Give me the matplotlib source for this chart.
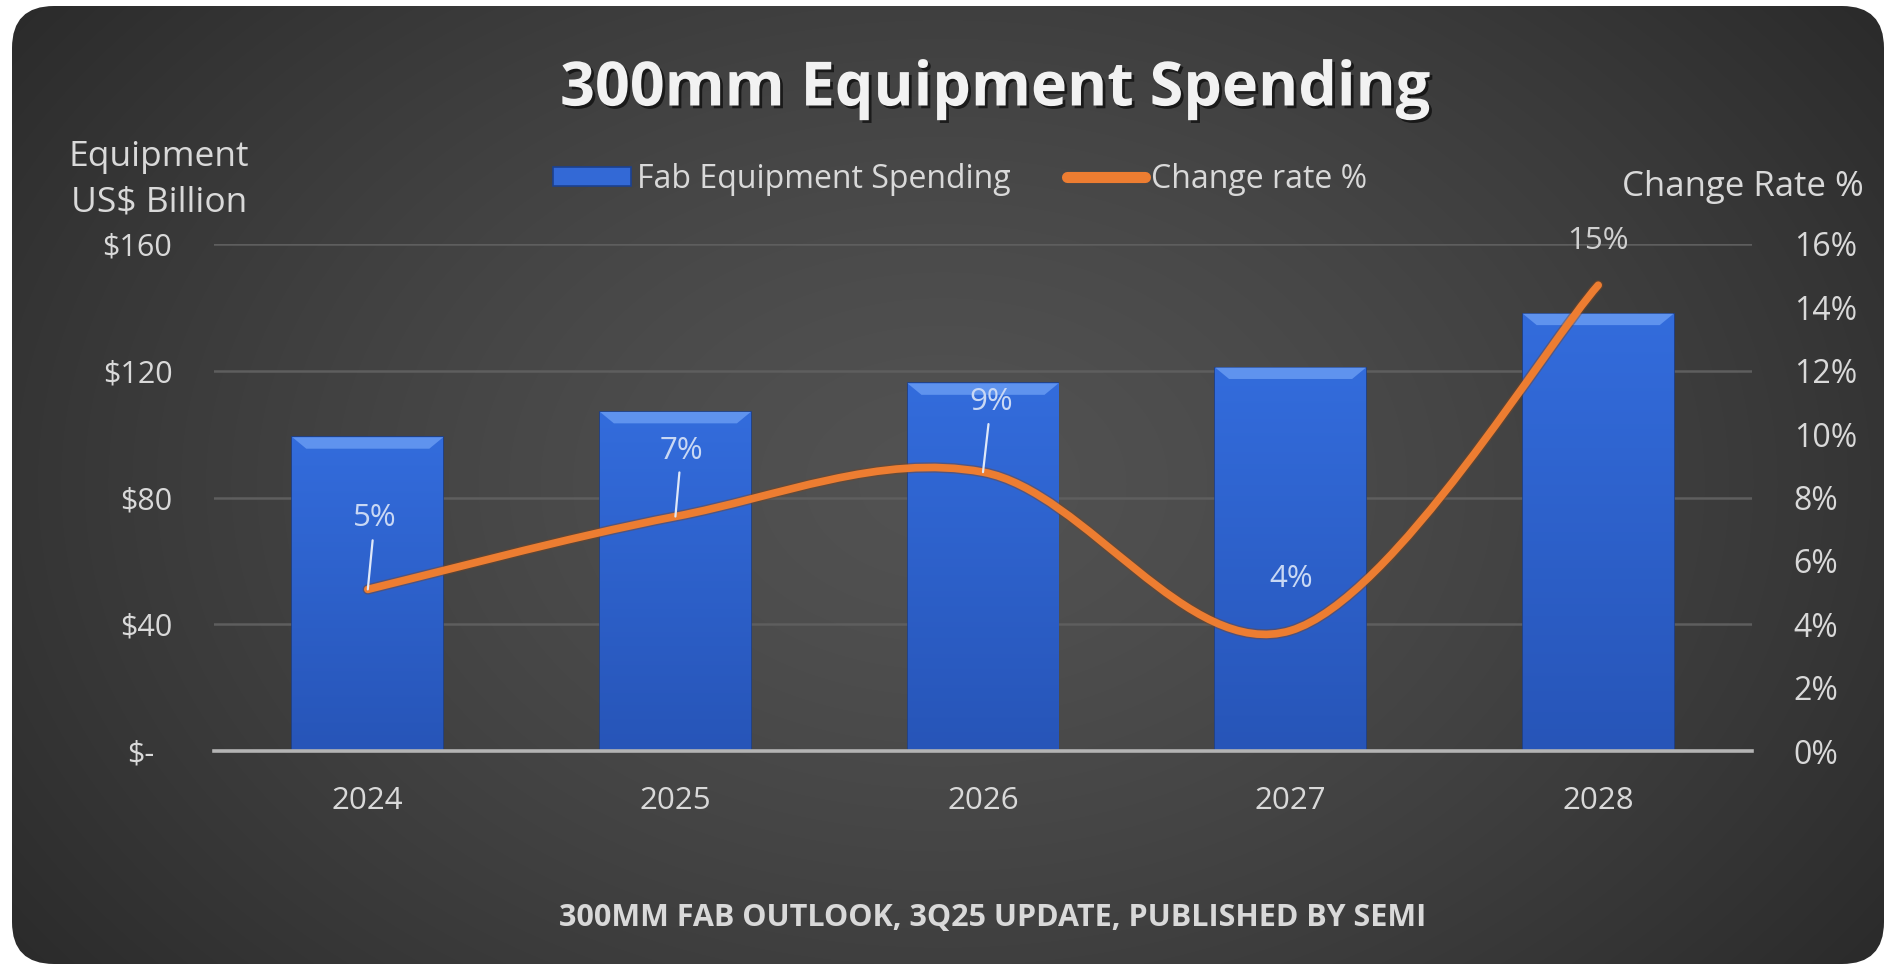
import matplotlib
matplotlib.use("Agg")
import matplotlib.pyplot as plt
import matplotlib.patheffects as pe
import numpy as np
from matplotlib.patches import FancyBboxPatch, PathPatch, Patch, Polygon
from matplotlib.path import Path
from matplotlib.lines import Line2D
from matplotlib.ticker import FuncFormatter

# chart data
years = ["2024", "2025", "2026", "2027", "2028"]
spending = [99, 107, 116, 121, 138]          # US$ billion
change_rate = [5.1, 7.4, 8.8, 3.8, 14.7]     # %
rate_labels = ["5%", "7%", "9%", "4%", "15%"]
left_ticks = [0, 40, 80, 120, 160]
left_tick_labels = ["$-", "$40", "$80", "$120", "$160"]
right_ticks = [0, 2, 4, 6, 8, 10, 12, 14, 16]

W, H = 1885, 967
plt.rcParams['font.family'] = ['Open Sans', 'DejaVu Sans']
TXT = '#d9d9d9'

fig = plt.figure(figsize=(W / 100, H / 100), dpi=100)
fig.patch.set_facecolor('white')

# rounded dark card with radial gradient
bg = fig.add_axes([0, 0, 1, 1])
bg.set_xlim(0, W)
bg.set_ylim(H, 0)
bg.axis('off')
card = FancyBboxPatch((12, 6), W - 13, H - 9,
                      boxstyle="round,pad=0,rounding_size=42",
                      fc='none', ec='none')
bg.add_patch(card)
yy, xx = np.mgrid[0:H:3, 0:W:3]
r = np.sqrt(((xx - 0.5 * W) / (0.62 * W)) ** 2 + ((yy - 0.5 * H) / (0.85 * H)) ** 2)
v = (82 - 40 * np.clip(r, 0, 1) ** 1.4) / 255.0
rgb = np.dstack([v, v, v])
im = bg.imshow(rgb, extent=(0, W, H, 0), aspect='auto', interpolation='bilinear')
im.set_clip_path(card)

# main axes
ax = fig.add_axes([214 / W, 1 - 751 / H, (1752 - 214) / W, (751 - 244) / H])
ax.set_facecolor('none')
x = np.arange(len(years))
bars = ax.bar(x, spending, width=0.49, color='#2d60cb', edgecolor='#1c4190',
              linewidth=1.2, zorder=2)

# gradient + bevel on each bar
grad = np.linspace(0, 1, 64).reshape(-1, 1)
top_c = np.array([0x33, 0x6c, 0xdc]) / 255
bot_c = np.array([0x27, 0x55, 0xb8]) / 255
grad_rgb = top_c * (1 - grad[..., None]) + bot_c * grad[..., None]
for b in bars:
    x0, w, h = b.get_x(), b.get_width(), b.get_height()
    gi = ax.imshow(grad_rgb, extent=(x0, x0 + w, 0, h), aspect='auto',
                   interpolation='bilinear', zorder=2.1)
    gi.set_clip_path(b)
    dx, dy = 0.045, 3.6
    bevel = Polygon([(x0, h), (x0 + w, h), (x0 + w - dx, h - dy), (x0 + dx, h - dy)],
                    closed=True, fc='#5f93ee', ec='none', zorder=2.2)
    ax.add_patch(bevel)

ax.set_xlim(-0.5, len(years) - 0.5)
ax.set_ylim(0, 160)
ax.set_yticks(left_ticks)
ax.set_yticklabels(left_tick_labels)
ax.get_yticklabels()[0].set_x(-0.012)
ax.set_xticks(x)
ax.set_xticklabels(years)
ax.tick_params(axis='both', length=0, colors=TXT)
ax.tick_params(axis='y', labelsize=22, pad=30)
ax.tick_params(axis='x', labelsize=22.5, pad=25)
ax.grid(axis='y', color='#5e5e5e', lw=1.8)
ax.set_axisbelow(True)
for s in ['top', 'right', 'left']:
    ax.spines[s].set_visible(False)
ax.spines['bottom'].set_color('#b4b4b4')
ax.spines['bottom'].set_linewidth(2.6)
ax.spines['bottom'].set_zorder(2.5)

# change rate axis
ax2 = ax.twinx()
ax2.set_ylim(0, 16)
ax2.set_yticks(right_ticks)
ax2.yaxis.set_major_formatter(FuncFormatter(lambda v, p: f"{v:.0f}%"))
ax2.tick_params(axis='y', length=0, colors=TXT, labelsize=23, pad=30)
for s in ax2.spines.values():
    s.set_visible(False)

# smoothed line (Catmull-Rom as cubic Bezier)
pts = np.column_stack([x, change_rate]).astype(float)
ext = np.vstack([pts[0], pts, pts[-1]])
verts = [pts[0]]
codes = [Path.MOVETO]
for i in range(len(pts) - 1):
    p0, p1, p2, p3 = ext[i], ext[i + 1], ext[i + 2], ext[i + 3]
    verts += [p1 + (p2 - p0) / 6, p2 - (p3 - p1) / 6, p2]
    codes += [Path.CURVE4] * 3
line = PathPatch(Path(verts, codes), fill=False, ec='#ed7d31', lw=5.5,
                 capstyle='round', joinstyle='round', zorder=3,
                 path_effects=[pe.Stroke(linewidth=7.5, foreground='#7a4420', alpha=0.45),
                               pe.Normal()])
ax2.add_patch(line)

# data labels
label_offsets = [(7, 71), (6, 66), (8, 70), (1, 52), (0, 44)]
has_leader = [True, True, True, False, False]
label_colors = ['#c9d8f4', '#c9d8f4', '#c9d8f4', '#c9d8f4', '#d0d0d0']
for i, lab in enumerate(rate_labels):
    arrow = dict(arrowstyle='-', color='#dfe8f8', lw=1.6, shrinkA=3, shrinkB=0) if has_leader[i] else None
    ax2.annotate(lab, xy=(x[i], change_rate[i]), xytext=label_offsets[i],
                 textcoords='offset pixels', ha='center', va='center',
                 fontsize=22.5, color=label_colors[i], arrowprops=arrow, zorder=4)

# titles
shadow = [pe.withSimplePatchShadow(offset=(2, -2), shadow_rgbFace='black', alpha=0.6)]
fig.text(995 / W, 1 - 90 / H, "300mm Equipment Spending", ha='center', va='center',
         fontsize=44, fontweight='bold', color='#f2f2f2', path_effects=shadow)
fig.text(159 / W, 1 - 157 / H, "Equipment", ha='center', va='center', fontsize=25.5, color=TXT)
fig.text(159 / W, 1 - 202 / H, "US$ Billion", ha='center', va='center', fontsize=25.5, color=TXT)
fig.text(1864 / W, 1 - 187 / H, "Change Rate %", ha='right', va='center', fontsize=25, color=TXT)
fig.text(993 / W, 1 - 918 / H, "300MM FAB OUTLOOK, 3Q25 UPDATE, PUBLISHED BY SEMI",
         ha='center', va='center', fontsize=22, fontweight='bold', color=TXT)

# legend
handles = [Patch(fc='#3369d6', ec='#1c4190', lw=1.2),
           Line2D([], [], color='#ed7d31', lw=8, solid_capstyle='round')]
fig.legend(handles, ["Fab Equipment Spending", "Change rate %"], loc='center',
           bbox_to_anchor=(960 / W, 1 - 179 / H), ncol=2, frameon=False,
           fontsize=23, labelcolor=TXT, handlelength=2.45, handleheight=0.55,
           handletextpad=0.2, columnspacing=1.75)

fig.savefig("out.png", dpi=100, facecolor=fig.get_facecolor())
